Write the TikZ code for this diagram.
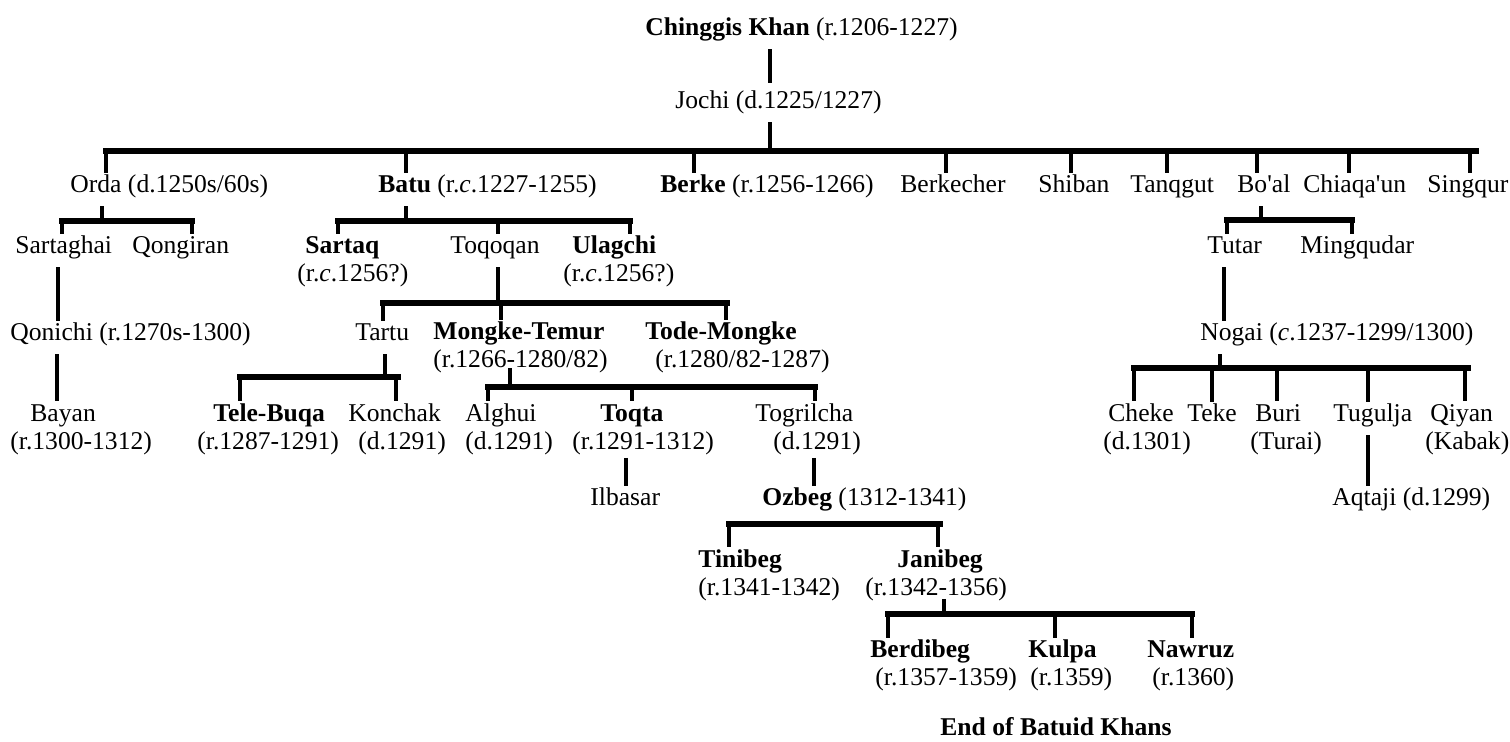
\documentclass[tikz,border=0pt]{standalone}
\usepackage{fontspec}
\setmainfont{Liberation Serif}

\tikzstyle{person}=[anchor=west, inner sep=0pt, align=left, yshift=-1.5pt, font=\fontsize{12.8}{14}\selectfont]
\tikzstyle{one}=[person, text height=9.8pt, text depth=4.2pt]
\tikzstyle{tree}=[line width=2pt]
\tikzstyle{stem}=[tree, shorten <=2.5pt]
\tikzstyle{bar}=[line width=2.6pt, line cap=rect]

\newcommand{\twoline}[2]{\strut#1\\\strut#2}

\begin{document}
\begin{tikzpicture}[x=0.5pt, y=-0.5pt]
            \useasboundingbox (0,0) rectangle (1510,742);

            % Definice osob
            \node[one] (chinggis) at (645,27) {\textbf{Chinggis Khan} (r.1206-1227)};
            \node[one] (jochi) at (675,100) {Jochi (d.1225/1227)};

            \node[one] (orda) at (70,184) {Orda (d.1250s/60s)};
            \node[one] (batu) at (378,184) {\textbf{Batu} (r.\textit{c}.1227-1255)};
            \node[one] (berke) at (660,184) {\textbf{Berke} (r.1256-1266)};
            \node[one] (berkecher) at (900,184) {Berkecher};
            \node[one] (shiban) at (1038,184) {Shiban};
            \node[one] (tanqgut) at (1130,184) {Tanqgut};
            \node[one] (boal) at (1237,184) {Bo\textquotesingle al};
            \node[one] (chiaqaun) at (1303,184) {Chiaqa\textquotesingle un};
            \node[one] (singqur) at (1427,184) {Singqur};

            \node[one] (sartaghai) at (15,245) {Sartaghai};
            \node[one] (qongiran) at (132,245) {Qongiran};
            \node[person] (sartaq) at (297,259) {\twoline{\hspace*{4pt}\textbf{Sartaq}}{(r.\textit{c}.1256?)}};
            \node[one] (toqoqan) at (450,245) {Toqoqan};
            \node[person] (ulagchi) at (563,259) {\twoline{\hspace*{4.5pt}\textbf{Ulagchi}}{(r.\textit{c}.1256?)}};
            \node[one] (tutar) at (1207,245) {Tutar};
            \node[one] (mingqudar) at (1300,245) {Mingqudar};

            \node[one] (qonichi) at (10,332) {Qonichi (r.1270s-1300)};
            \node[one] (tartu) at (355,332) {Tartu};
            \node[person] (mongke) at (433,345) {\twoline{\textbf{Mongke-Temur}}{(r.1266-1280/82)}};
            \node[person] (todemongke) at (645,345) {\twoline{\textbf{Tode-Mongke}}{\hspace*{5pt}(r.1280/82-1287)}};
            \node[one] (nogai) at (1200,332) {Nogai (\textit{c}.1237-1299/1300)};

            \node[person] (bayan) at (10,426.5) {\twoline{\hspace*{10pt}Bayan}{(r.1300-1312)}};
            \node[person] (telebuqa) at (197,426.5) {\twoline{\hspace*{8pt}\textbf{Tele-Buqa}}{(r.1287-1291)}};
            \node[person] (konchak) at (348,426.5) {\twoline{Konchak}{\hspace*{5pt}(d.1291)}};
            \node[person] (alghui) at (465,426.5) {\twoline{Alghui}{(d.1291)}};
            \node[person] (toqta) at (572,426.5) {\twoline{\hspace*{14pt}\textbf{Toqta}}{(r.1291-1312)}};
            \node[person] (togrilcha) at (755,426.5) {\twoline{Togrilcha}{\hspace*{9pt}(d.1291)}};
            \node[person] (cheke) at (1103,426.5) {\twoline{\hspace*{2.5pt}Cheke}{(d.1301)}};
            \node[one] (teke) at (1187,413) {Teke};
            \node[person] (buri) at (1250,426.5) {\twoline{\hspace*{2.5pt}Buri}{(Turai)}};
            \node[one] (tugulja) at (1333,413) {Tugulja};
            \node[person] (qiyan) at (1425,426.5) {\twoline{\hspace*{2.5pt}Qiyan}{(Kabak)}};

            \node[one] (ilbasar) at (590,497) {Ilbasar};
            \node[one] (ozbeg) at (762,497) {\textbf{Ozbeg} (1312-1341)};
            \node[one] (aqtaji) at (1332,497) {Aqtaji (d.1299)};

            \node[person] (tinibeg) at (698,572.5) {\twoline{\textbf{Tinibeg}}{(r.1341-1342)}};
            \node[person] (janibeg) at (865,572.5) {\twoline{\hspace*{16pt}\textbf{Janibeg}}{(r.1342-1356)}};

            \node[person] (berdibeg) at (870,663) {\twoline{\textbf{Berdibeg}}{\hspace*{2.5pt}(r.1357-1359)}};
            \node[person] (kulpa) at (1028,663) {\twoline{\textbf{Kulpa}}{\hspace*{1pt}(r.1359)}};
            \node[person] (nawruz) at (1147,663) {\twoline{\textbf{Nawruz}}{\hspace*{2.5pt}(r.1360)}};

            \node[one] (konec) at (940,727) {\textbf{End of Batuid Khans}};

            % Spojnice
            \draw[stem, shorten >=3pt] (chinggis.south -| 770,0) -- (jochi.north -| 770,0);
            \draw[stem] (jochi.south -| 770,0) -- (770,151);
            \draw[bar, line width=3pt] (106,151) -- (1476,151);
            \foreach \k/\x in {orda/106, batu/406, berke/694, berkecher/946, shiban/1071, tanqgut/1167, boal/1257, chiaqaun/1349, singqur/1470}
                \draw[tree] (\x,151) -- (\k.north -| \x,0);

            \draw[stem] (orda.south -| 102,0) -- (102,221);
            \draw[bar] (62,221) -- (192,221);
            \foreach \k/\x in {sartaghai/62, qongiran/192}
                \draw[tree] (\x,221) -- (\k.north -| \x,0);

            \draw[stem] (batu.south -| 406,0) -- (406,221);
            \draw[bar] (338,221) -- (630,221);
            \foreach \k/\x in {sartaq/338, toqoqan/498, ulagchi/630}
                \draw[tree] (\x,221) -- (\k.north -| \x,0);

            \draw[stem] (boal.south -| 1261,0) -- (1261,220);
            \draw[bar] (1227,220) -- (1352,220);
            \foreach \k/\x in {tutar/1227, mingqudar/1352}
                \draw[tree] (\x,220) -- (\k.north -| \x,0);

            \draw[stem] (sartaghai.south -| 58,0) -- (qonichi.north -| 58,0);
            \draw[stem] (qonichi.south -| 57,0) -- (bayan.north -| 57,0);

            \draw[stem] (toqoqan.south -| 498,0) -- (498,303);
            \draw[bar] (383,303) -- (727,303);
            \foreach \k/\x in {tartu/383, mongke/501, todemongke/726}
                \draw[tree] (\x,303) -- (\k.north -| \x,0);

            \draw[stem] (tartu.south -| 385,0) -- (385,377);
            \draw[bar] (240,377) -- (398,377);
            \foreach \k/\x in {telebuqa/240, konchak/396}
                \draw[tree] (\x,377) -- (\k.north -| \x,0);

            \draw[tree, shorten <=-4pt] (mongke.south -| 510,0) -- (510,387);
            \draw[bar] (488,387) -- (815,387);
            \foreach \k/\x in {alghui/488, toqta/632, togrilcha/815}
                \draw[tree] (\x,387) -- (\k.north -| \x,0);

            \draw[tree] (toqta.south -| 626,0) -- (ilbasar.north -| 626,0);
            \draw[tree] (togrilcha.south -| 814,0) -- (ozbeg.north -| 814,0);

            \draw[bar] (729,524) -- (940,524);
            \foreach \k/\x in {tinibeg/729, janibeg/938}
                \draw[tree] (\x,524) -- (\k.north -| \x,0);

            \draw[tree, shorten <=-2.5pt] (janibeg.south -| 944,0) -- (944,614);
            \draw[bar] (888,614) -- (1192,614);
            \foreach \k/\x in {berdibeg/888, kulpa/1055, nawruz/1192}
                \draw[tree] (\x,614) -- (\k.north -| \x,0);

            \draw[stem] (tutar.south -| 1224,0) -- (nogai.north -| 1224,0);
            \draw[stem] (nogai.south -| 1220,0) -- (1220,368);
            \draw[bar] (1134,368) -- (1468,368);
            \foreach \k/\x in {cheke/1134, teke/1212, buri/1277, tugulja/1368, qiyan/1465}
                \draw[tree] (\x,368) -- (\k.north -| \x,0);

            \draw[stem] (tugulja.south -| 1368,0) -- (aqtaji.north -| 1368,0);
        \end{tikzpicture}
\end{document}
